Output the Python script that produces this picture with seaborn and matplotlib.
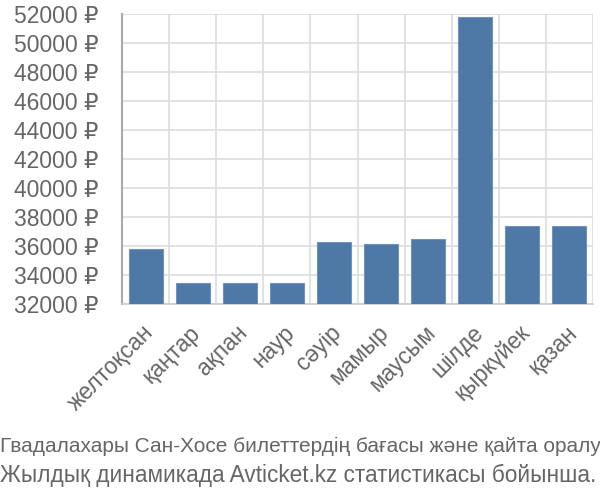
import matplotlib
matplotlib.use("Agg")
import matplotlib.pyplot as plt
import matplotlib.transforms as mtransforms
import seaborn as sns
import pandas as pd
from matplotlib.ticker import FixedLocator, FuncFormatter

months = ["желтоқсан", "қаңтар", "ақпан", "наур", "сәуір", "мамыр",
          "маусым", "шілде", "қыркүйек", "қазан"]
prices = [35800, 33450, 33450, 33450, 36250, 36150, 36450, 51800, 37400, 37400]
yticks = list(range(32000, 52001, 2000))
caption = ["Гвадалахары Сан-Хосе билеттердің бағасы және қайта оралу",
           "Жылдық динамикада Avticket.kz статистикасы бойынша."]

sns.set_style("white")
plt.rcParams['font.family'] = ['Liberation Sans', 'DejaVu Sans']

df = pd.DataFrame({"month": months, "price": prices})

fig = plt.figure(figsize=(6, 5), dpi=100)
ax = fig.add_axes([122/600, 1-304/500, (593-122)/600, (304-14)/500])

sns.barplot(data=df, x="month", y="price", color="#4e79a7", saturation=1,
            width=0.72, edgecolor="#6f93bd", linewidth=0.8, ax=ax, zorder=3)

px = 72 / 100  # points per pixel
grid_c = "#dddddd"
text_c = "#666666"
ax.set_ylim(32000, 52000)
ax.set_xlim(-0.5, len(months) - 0.5)
ax.yaxis.set_major_locator(FixedLocator(yticks))
ax.yaxis.set_major_formatter(FuncFormatter(lambda v, p: f"{int(v)} ₽"))
ax.xaxis.set_minor_locator(FixedLocator([i - 0.5 for i in range(len(months) + 1)]))
ax.grid(True, axis="y", which="major", color=grid_c, linewidth=1.2, zorder=0)
ax.grid(True, axis="x", which="minor", color=grid_c, linewidth=1.2, zorder=0)
ax.set_axisbelow(True)
ax.tick_params(axis="y", which="major", length=22 * px, color=grid_c, width=1.2,
               labelsize=16.5, labelcolor=text_c, pad=1)
ax.tick_params(axis="x", which="major", length=0, labelsize=16.5, labelcolor=text_c,
               pad=17 * px)
ax.tick_params(axis="x", which="minor", length=21 * px, color=grid_c, width=1.2)
offset = mtransforms.ScaledTranslation(-4 / 100, 0, fig.dpi_scale_trans)
for lbl in ax.get_xticklabels():
    lbl.set_rotation(45)
    lbl.set_ha("right")
    lbl.set_va("top")
    lbl.set_rotation_mode("anchor")
    lbl.set_transform(lbl.get_transform() + offset)
ax.set_xlabel("")
ax.set_ylabel("")
for s in ["top", "right"]:
    ax.spines[s].set_visible(False)
ax.spines["left"].set_color("#aaaaaa")
ax.spines["left"].set_linewidth(1.5)
ax.spines["bottom"].set_color("#cccccc")
ax.spines["bottom"].set_linewidth(1.2)

fig.text(0.0, 1-446/500, caption[0], fontsize=15, color=text_c, va="center", ha="left")
fig.text(0.0, 1-475/500, caption[1], fontsize=16.3, color=text_c, va="center", ha="left")

fig.savefig("out.png", dpi=100)
